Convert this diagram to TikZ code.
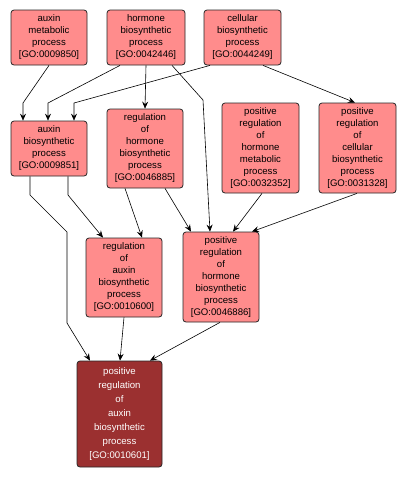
\documentclass[tikz,border=0pt]{standalone}
\usepackage{fontspec}
\setmainfont{Liberation Sans}
\usetikzlibrary{arrows.meta}
\definecolor{lightnode}{RGB}{255,140,140}
\definecolor{darknode}{RGB}{155,48,48}
\begin{document}
\begin{tikzpicture}[x=1pt,y=-1pt,
  gonode/.style={draw=black!85, line width=0.8pt, fill=lightnode, rounded corners=3pt,
    align=center, inner sep=0pt, font=\fontsize{9.6}{12}\selectfont, text=black},
  target/.style={gonode, fill=darknode, text=white, font=\fontsize{9.6}{14}\selectfont},
  arr/.style={draw=black, line width=0.6pt, -{Stealth[length=7pt,width=6pt,inset=2.5pt]}}]
\useasboundingbox (0,0) rectangle (406,480);
\fill[white] (0,0) rectangle (406,480);
\node[gonode, minimum width=76pt, minimum height=55pt] (A) at (49,37.5) {auxin\\metabolic\\process\\{[GO:0009850]}};
\node[gonode, minimum width=78pt, minimum height=55pt] (B) at (146,37.5) {hormone\\biosynthetic\\process\\{[GO:0042446]}};
\node[gonode, minimum width=77pt, minimum height=55pt] (C) at (242.5,37.5) {cellular\\biosynthetic\\process\\{[GO:0044249]}};
\node[gonode, minimum width=76pt, minimum height=55pt] (D) at (49,148.5) {auxin\\biosynthetic\\process\\{[GO:0009851]}};
\node[gonode, minimum width=76pt, minimum height=79pt] (E) at (145,148.5) {regulation\\of\\hormone\\biosynthetic\\process\\{[GO:0046885]}};
\node[gonode, minimum width=77pt, minimum height=90pt] (F) at (260.5,148) {positive\\regulation\\of\\hormone\\metabolic\\process\\{[GO:0032352]}};
\node[gonode, minimum width=77pt, minimum height=90pt] (G) at (357.5,148) {positive\\regulation\\of\\cellular\\biosynthetic\\process\\{[GO:0031328]}};
\node[gonode, minimum width=76pt, minimum height=79pt] (H) at (124,277.5) {regulation\\of\\auxin\\biosynthetic\\process\\{[GO:0010600]}};
\node[gonode, minimum width=76pt, minimum height=90pt] (I) at (221,277) {positive\\regulation\\of\\hormone\\biosynthetic\\process\\{[GO:0046886]}};
\node[target, minimum width=85pt, minimum height=106pt] (J) at (119.5,414) {positive\\regulation\\of\\auxin\\biosynthetic\\process\\{[GO:0010601]}};
% edges
\draw[arr] (A.south) -- (23,103) -- ([xshift=-26pt]D.north);
\draw[arr] ([xshift=-26pt]B.south) -- (48,103) -- ([xshift=-1pt]D.north);
\draw[arr] ([xshift=-32.5pt]C.south) -- (74,103) -- ([xshift=25pt]D.north);
\draw[arr] (B.south) -- ([xshift=0pt]E.north);
\draw[arr] ([xshift=26pt]B.south) -- (203,100) -- ([xshift=-11pt]I.north);
\draw[arr] ([xshift=20.5pt]C.south) -- ([xshift=-2.5pt]G.north);
\draw[arr] ([xshift=-19pt]D.south) -- (30,195) -- (67,232) -- (67,323) -- ([xshift=-29.5pt]J.north);
\draw[arr] ([xshift=19pt]D.south) -- (68,195) -- ([xshift=-21pt]H.north);
\draw[arr] ([xshift=-20pt]E.south) -- ([xshift=18pt]H.north);
\draw[arr] ([xshift=20pt]E.south) -- ([xshift=-30pt]I.north);
\draw[arr] ([xshift=1.5pt]F.south) -- ([xshift=12pt]I.north);
\draw[arr] ([xshift=-0.5pt]G.south) -- ([xshift=31pt]I.north);
\draw[arr] (H.south) -- ([xshift=0.5pt]J.north);
\draw[arr] ([xshift=-1pt]I.south) -- ([xshift=30.5pt]J.north);
\end{tikzpicture}
\end{document}
